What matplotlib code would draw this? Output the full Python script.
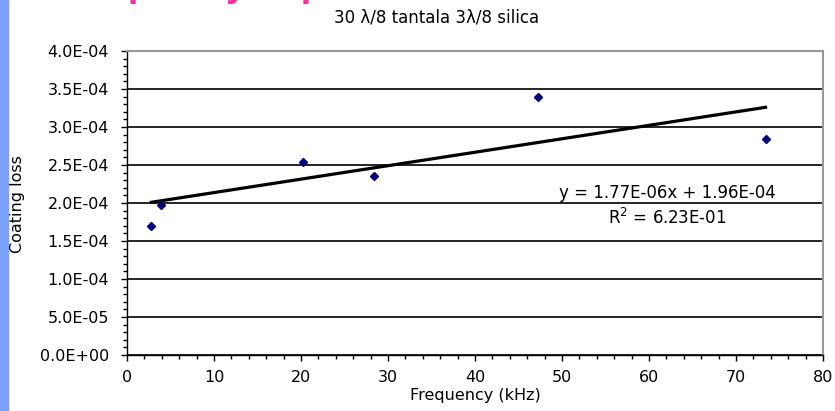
import numpy as np
import matplotlib
matplotlib.use('Agg')
import matplotlib.pyplot as plt
from matplotlib.ticker import MultipleLocator, FuncFormatter
from matplotlib.patches import Rectangle

# data
freq = [2.8, 3.9, 20.2, 28.4, 47.2, 73.4]          # kHz
loss = [1.70e-4, 1.98e-4, 2.54e-4, 2.35e-4, 3.39e-4, 2.84e-4]
slope = 1.77e-06
intercept = 1.96e-04
r_squared = 6.23e-01

title = "30 \u03bb/8 tantala 3\u03bb/8 silica"
slide_title = "Frequency dependence"
x_label = "Frequency (kHz)"
y_label = "Coating loss"

plt.rcParams['font.family'] = ['DejaVu Sans']

fig = plt.figure(figsize=(8.35, 4.11), dpi=100)

# bits of the slide around the chart
fig.patches.append(Rectangle((0, 0), 8 / 835, 1, transform=fig.transFigure,
                             color='#7aa2f8', zorder=0))
fig.text(57 / 835, 1 + 4 / 411, slide_title, color='#ff2aa0', fontsize=27,
         fontweight='bold', family='Liberation Sans', ha='left', va='baseline')

ax = fig.add_axes([127 / 835, 56 / 411, 696 / 835, 304 / 411])

ax.plot(freq, loss, 'D', color='#00007f', ms=4.3, zorder=4)

xs = np.array([min(freq), max(freq)])
ax.plot(xs, slope * xs + intercept, color='black', lw=2.3, zorder=3)

ax.set_xlim(0, 80)
ax.set_ylim(0, 4e-4)
ax.xaxis.set_major_locator(MultipleLocator(10))
ax.xaxis.set_minor_locator(MultipleLocator(2))
ax.yaxis.set_major_locator(MultipleLocator(5e-5))
ax.yaxis.set_minor_locator(MultipleLocator(1e-5))
ax.yaxis.set_major_formatter(FuncFormatter(lambda v, p: f"{v:.1E}"))

ax.tick_params(which='both', direction='out', width=1, colors='black',
               labelsize=11.5)
ax.tick_params(which='major', length=4)
ax.tick_params(which='minor', length=3)
ax.tick_params(axis='y', pad=9)
ax.tick_params(axis='x', pad=7)

ax.yaxis.grid(True, color='black', lw=1.2)
ax.set_axisbelow(True)
ax.get_ygridlines()[-1].set_visible(False)

for s in ['left', 'bottom']:
    ax.spines[s].set_color('black')
    ax.spines[s].set_linewidth(1)
for s in ['top', 'right']:
    ax.spines[s].set_color('#999999')
    ax.spines[s].set_linewidth(1.5)

ax.set_xlabel(x_label, fontsize=11.5, labelpad=2)
fig.text(18 / 835, 1 - 204 / 411, y_label, rotation=90, ha='center',
         va='center', fontsize=11.5)
fig.text(437 / 835, 1 - 18 / 411, title, ha='center', va='center', fontsize=12)

ax.text(62.1, 2.136e-4, f"y = {slope:.2E}x + {intercept:.2E}",
        ha='center', va='center', fontsize=12)
ax.text(62.1, 1.803e-4, f"R$^2$ = {r_squared:.2E}",
        ha='center', va='center', fontsize=12)

fig.savefig('out.png', dpi=100)
